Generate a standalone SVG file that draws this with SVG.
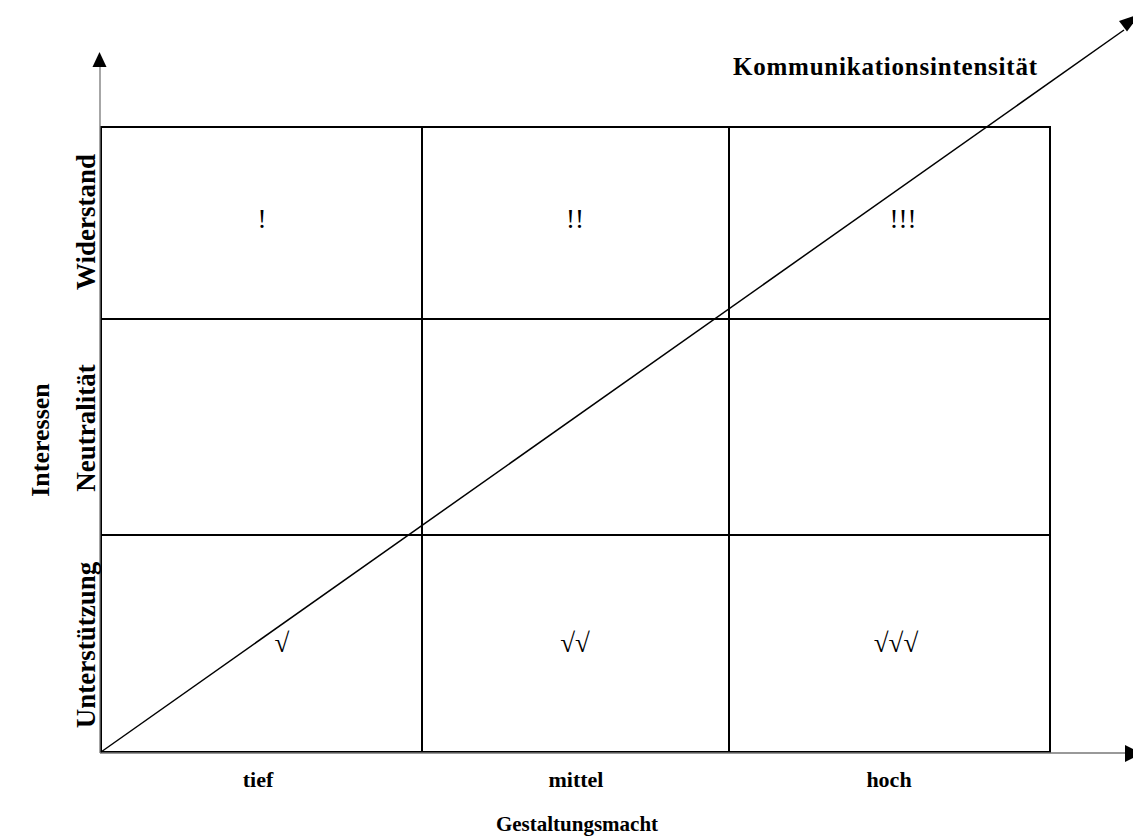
<svg xmlns="http://www.w3.org/2000/svg" width="1133" height="836" viewBox="0 0 1133 836">
<defs>
<style>
.grid{fill:none;stroke:#000;stroke-width:2}
.axis{stroke:#777;stroke-width:1.3;fill:none}
.diag{stroke:#000;stroke-width:1.5;fill:none}
.lbl{font-family:"Liberation Serif","Times New Roman",serif;font-weight:bold;font-size:22px;fill:#000}
.rot{font-size:27px}
.sym{font-family:"Liberation Serif","Times New Roman",serif;font-size:27px;fill:#000;text-anchor:middle}
</style>
</defs>
<rect width="1133" height="836" fill="#fff"/>
<g id="grid">
<rect class="grid" x="101" y="127" width="949" height="625"/>
<line class="grid" x1="422" y1="127" x2="422" y2="752"/>
<line class="grid" x1="729" y1="127" x2="729" y2="752"/>
<line class="grid" x1="101" y1="319" x2="1050" y2="319"/>
<line class="grid" x1="101" y1="535" x2="1050" y2="535"/>
</g>
<g id="connectors">
<line class="axis" x1="100" y1="753" x2="100" y2="66"/>
<path d="M92.5,67 L99.5,52 L106.5,67 Z" fill="#000"/>
<line class="axis" x1="100" y1="753" x2="1126" y2="753"/>
<path d="M1125,745 L1142,753.5 L1125,762 Z" fill="#000"/>
<line class="diag" x1="101" y1="752" x2="1124" y2="30"/>
<path d="M1119,21 L1140,14 L1127,31.5 Z" fill="#000"/>
</g>
<g id="labels">
<text class="lbl" x="733" y="75" style="font-size:25px" textLength="304" lengthAdjust="spacing">Kommunikationsintensität</text>
<text class="lbl rot" text-anchor="middle" transform="translate(95,222) rotate(-90)">Widerstand</text>
<text class="lbl rot" text-anchor="middle" transform="translate(95,428) rotate(-90)">Neutralität</text>
<text class="lbl rot" text-anchor="middle" transform="translate(95,645) rotate(-90)">Unterstützung</text>
<text class="lbl rot" text-anchor="middle" transform="translate(49,440) rotate(-90)" style="font-size:26px">Interessen</text>
<text class="lbl" text-anchor="middle" x="258" y="787">tief</text>
<text class="lbl" text-anchor="middle" x="576" y="787">mittel</text>
<text class="lbl" text-anchor="middle" x="889" y="787">hoch</text>
<text class="lbl" text-anchor="middle" x="577" y="831" style="font-size:21px">Gestaltungsmacht</text>
</g>
<g id="cells">
<text class="sym" x="262" y="228">!</text>
<text class="sym" x="575" y="228">!!</text>
<text class="sym" x="903" y="228">!!!</text>
<text class="sym" x="282" y="652">√</text>
<text class="sym" x="575" y="652">√√</text>
<text class="sym" x="896" y="652">√√√</text>
</g>
</svg>
